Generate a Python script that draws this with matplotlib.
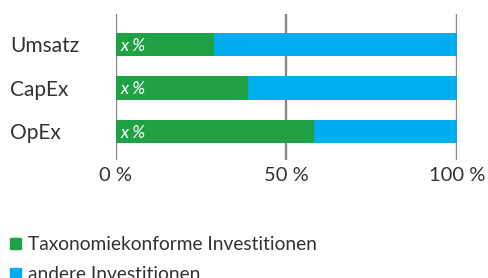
import matplotlib
matplotlib.use("Agg")
import matplotlib.pyplot as plt
from matplotlib.patches import Rectangle

categories = ["Umsatz", "CapEx", "OpEx"]
aligned = [28.6, 38.6, 58.0]
other = [71.4, 61.4, 42.0]
inline_labels = ["x %", "x %", "x %"]
xticks = [0, 50, 100]
xtick_labels = ["0 %", "50 %", "100 %"]
legend_labels = ["Taxonomiekonforme Investitionen", "andere Investitionen"]

GREEN = "#21a146"
BLUE = "#00aeef"
GRID = "#88888b"
TEXT = "#333333"

plt.rcParams["font.family"] = ["Lato", "DejaVu Sans"]

W, H = 489, 278
fig = plt.figure(figsize=(W / 100, H / 100), dpi=100)

# axes spans x 116..457 px, y 14..160 px
ax = fig.add_axes([116 / W, (H - 160) / H, 341 / W, 146 / H])
ax.set_xlim(0, 100)
ax.set_ylim(2.655, -0.70)

ypos = list(range(len(categories)))
for x in xticks:
    ax.axvline(x, color=GRID, lw=1.7, zorder=0)

bh = 0.53
ax.barh(ypos, aligned, height=bh, color=GREEN, zorder=2, label=legend_labels[0])
ax.barh(ypos, other, left=aligned, height=bh, color=BLUE, zorder=2, label=legend_labels[1])

for y, t in zip(ypos, inline_labels):
    ax.text(1.3, y + 0.03, t, color="white", fontsize=12.5, style="italic",
            va="center", ha="left", zorder=3)

for s in ax.spines.values():
    s.set_visible(False)
ax.set_xticks(xticks)
ax.set_xticklabels(xtick_labels, fontsize=14.5, color=TEXT)
ax.set_yticks(ypos)
ax.set_yticklabels(categories, fontsize=15, color=TEXT)
ax.tick_params(axis="both", length=0)
ax.tick_params(axis="x", pad=5)
ax.tick_params(axis="y", pad=106 * 0.72)
for lab in ax.get_yticklabels():
    lab.set_ha("left")

# legend (manual, in figure pixels)
colors = [GREEN, BLUE]
sq_top = [237.7, 267.7]
for c, top, lab in zip(colors, sq_top, legend_labels):
    fig.patches.append(Rectangle((10 / W, (H - top - 11) / H), 11 / W, 11 / H,
                                 transform=fig.transFigure, color=c,
                                 figure=fig))
    fig.text(28 / W, (H - (top + 12.3)) / H, lab, fontsize=13.8, color=TEXT,
             ha="left", va="baseline")

fig.savefig("out.png", dpi=100)
